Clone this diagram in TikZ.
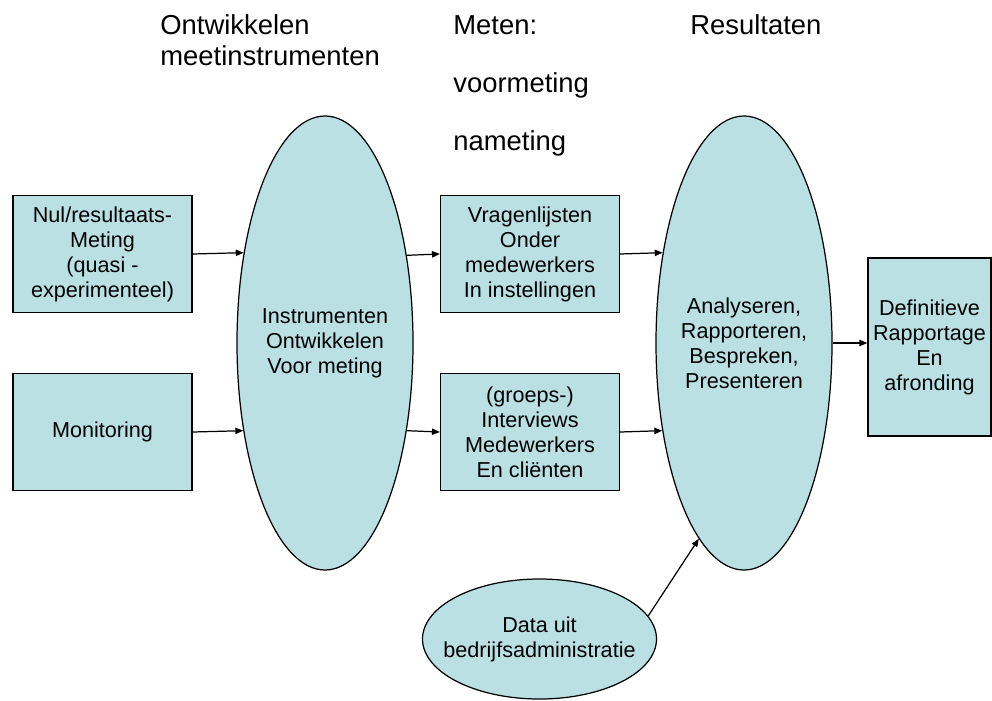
\documentclass[tikz,border=0pt]{standalone}
\usepackage{fontspec}
\setmainfont{Liberation Sans}
\usetikzlibrary{arrows.meta, shapes.geometric, calc}
\usepackage{xcolor}
\definecolor{paleblue}{RGB}{186,224,228}
\tikzset{
  BX/.style={draw=black,fill=paleblue,line width=0.7pt,rectangle,minimum width=3.58cm,minimum height=2.34cm,font=\fontsize{12.3}{14.2}\selectfont,align=center,inner sep=2pt},
  EL/.style={draw=black,fill=paleblue,line width=0.7pt,ellipse,minimum width=3.52cm,minimum height=9.08cm,font=\fontsize{12.3}{14.2}\selectfont,align=center,inner xsep=-2pt,inner ysep=0pt},
  HD/.style={font=\fontsize{15.6}{18}\selectfont,anchor=base west,inner sep=0pt},
  FL/.style={-{Triangle[length=4.5pt,width=3.6pt]},line width=0.7pt},
}

\begin{document}
\begin{tikzpicture}
\useasboundingbox (0,0) rectangle (19.84,-14.0);

% Headers
\node[HD](ontw)  at ( 3.20,-0.68){Ontwikkelen};
\node[HD](meet)  at ( 3.20,-1.30){meetinstrumenten};
\node[HD](meten) at ( 9.06,-0.68){Meten:};
\node[HD](voor)  at ( 9.06,-1.84){voormeting};
\node[HD](na)    at ( 9.06,-3.00){nameting};
\node[HD](res)   at (13.80,-0.68){Resultaten};

% Inputs
\node[BX](nul)   at (2.05,-5.08){Nul/resultaats-\\Meting\\(quasi -\\experimenteel)};
\node[BX](monit) at (2.05,-8.64){Monitoring};

% Instruments
\node[EL](instr) at (6.50,-6.86){Instrumenten\\Ontwikkelen\\Voor meting};

% Measuring
\node[BX](vragen) at (10.60,-5.08){Vragenlijsten\\Onder\\medewerkers\\In instellingen};
\node[BX](interv) at (10.60,-8.64){(groeps-)\\Interviews\\Medewerkers\\En cliënten};

% Results
\node[EL](analyse) at (14.88,-6.86){Analyseren,\\Rapporteren,\\Bespreken,\\Presenteren};
\node[BX,minimum width=2.46cm,minimum height=3.56cm](defin) at (18.59,-6.94){Definitieve\\Rapportage\\En\\afronding};

% Extra data source
\node[EL,minimum width=4.68cm,minimum height=2.40cm,inner xsep=-8pt](data) at (10.79,-12.78){Data uit\\bedrijfsadministratie};

% FLOWS
\draw[FL](nul.east)--(instr.132.3);
\draw[FL](monit.east)--(instr.227.7);
\draw[FL](instr.47.7)--(vragen.west);
\draw[FL](instr.-47.7)--(interv.west);
\draw[FL](vragen.east)--(analyse.132.3);
\draw[FL](interv.east)--(analyse.227.7);
\draw[FL](analyse.east)--(analyse.east -| defin.west);
\draw[FL](data.12.8)--(analyse.257.8);

\end{tikzpicture}
\end{document}
